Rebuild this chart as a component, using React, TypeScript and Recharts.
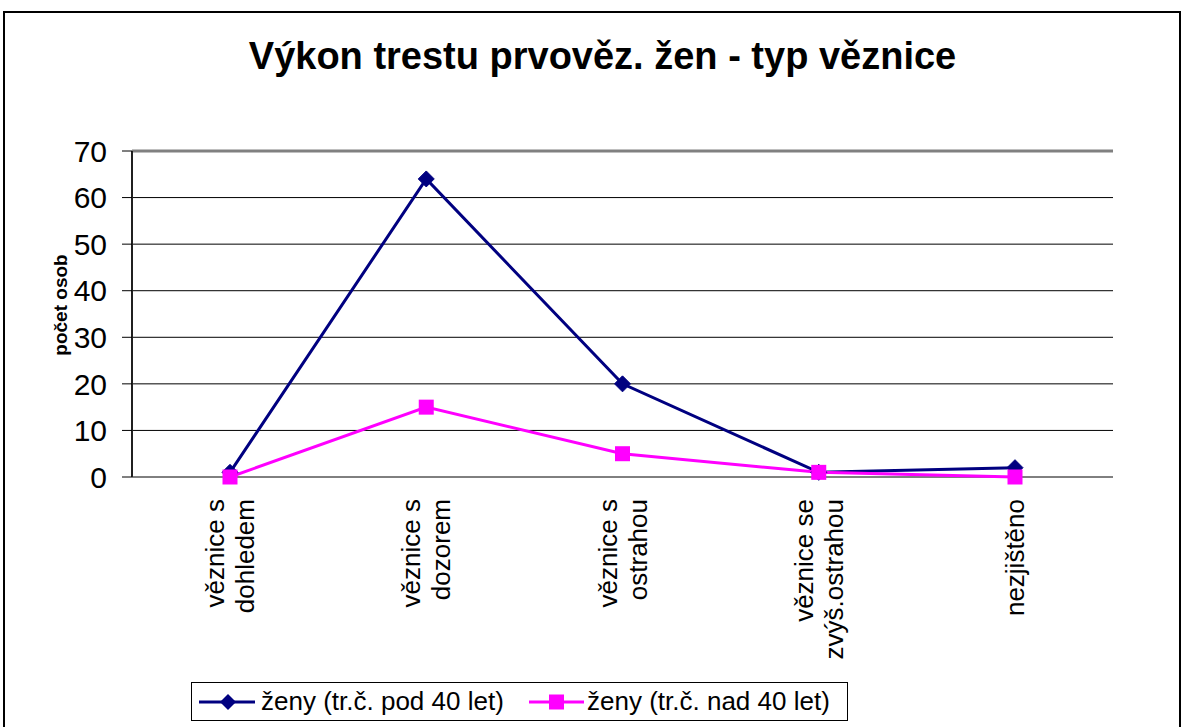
import React from "react";
import {
  LineChart,
  Line,
  XAxis,
  YAxis,
  CartesianGrid,
  ReferenceLine,
  Legend,
} from "recharts";

const title = "Výkon trestu prvověz. žen - typ věznice";
const yAxisTitle = "počet osob";
const categories = [
  "věznice s dohledem",
  "věznice s dozorem",
  "věznice s ostrahou",
  "věznice se zvýš.ostrahou",
  "nezjištěno",
];
const categoryLines = [
  ["věznice s", "dohledem"],
  ["věznice s", "dozorem"],
  ["věznice s", "ostrahou"],
  ["věznice se", "zvýš.ostrahou"],
  ["nezjištěno"],
];
const seriesNames = ["ženy (tr.č. pod 40 let)", "ženy (tr.č. nad 40 let)"];
const under40 = [1, 64, 20, 1, 2];
const over40 = [0, 15, 5, 1, 0];
const yTicks = [0, 10, 20, 30, 40, 50, 60, 70];
const boundaryTicks = [0, 1, 2, 3, 4, 5];

const NAVY = "#000080";
const PINK = "#FF00FF";
const FONT = "'Liberation Sans', Arial, sans-serif";

const data = categories.map((c, i) => ({
  name: c,
  under40: under40[i],
  over40: over40[i],
}));

const Diamond = (props: any) => {
  const { cx, cy } = props;
  if (cx == null || cy == null) return null;
  const s = 8;
  return (
    <polygon
      points={`${cx},${cy - s} ${cx + s},${cy} ${cx},${cy + s} ${cx - s},${cy}`}
      fill={NAVY}
      stroke={NAVY}
      strokeWidth={1}
    />
  );
};

const Square = (props: any) => {
  const { cx, cy } = props;
  if (cx == null || cy == null) return null;
  const s = 7.5;
  return <rect x={cx - s} y={cy - s} width={2 * s} height={2 * s} fill={PINK} />;
};

const CatTick = (props: any) => {
  const { x, y, payload } = props;
  const idx = categories.indexOf(payload.value);
  const lines = categoryLines[idx] || [String(payload.value)];
  const n = lines.length;
  return (
    <g transform={`translate(${x},${y + 22}) rotate(-90)`}>
      <text textAnchor="end" fontSize={26} fontFamily={FONT} fill="#000">
        {lines.map((l, i) => (
          <tspan key={i} x={0} y={9 + (i - (n - 1) / 2) * 30}>
            {l}
          </tspan>
        ))}
      </text>
    </g>
  );
};

const YLabel = () => (
  <text
    transform="translate(67,305) rotate(-90)"
    textAnchor="middle"
    fontSize={19}
    fontWeight="bold"
    fontFamily={FONT}
    fill="#000"
  >
    {yAxisTitle}
  </text>
);

const LegendContent = () => (
  <div
    style={{
      position: "relative",
      width: 657,
      height: 39,
      border: "1px solid #000",
      boxSizing: "border-box",
      background: "#fff",
      fontFamily: FONT,
      fontSize: 26,
      color: "#000",
    }}
  >
    <svg
      width={56}
      height={20}
      style={{ position: "absolute", left: 7, top: 9 }}
    >
      <line x1={0} y1={10} x2={56} y2={10} stroke={NAVY} strokeWidth={3} />
      <polygon points="29,2 37,10 29,18 21,10" fill={NAVY} />
    </svg>
    <span
      style={{ position: "absolute", left: 69, top: 4, whiteSpace: "nowrap", lineHeight: "29px" }}
    >
      {seriesNames[0]}
    </span>
    <svg
      width={55}
      height={20}
      style={{ position: "absolute", left: 337, top: 9 }}
    >
      <line x1={0} y1={10} x2={55} y2={10} stroke={PINK} strokeWidth={3} />
      <rect x={20} y={2.5} width={15} height={15} fill={PINK} />
    </svg>
    <span
      style={{ position: "absolute", left: 395, top: 4, whiteSpace: "nowrap", lineHeight: "29px" }}
    >
      {seriesNames[1]}
    </span>
  </div>
);

export default function App() {
  return (
    <div
      style={{
        position: "absolute",
        left: 0,
        top: 0,
        width: 1184,
        height: 727,
        overflow: "hidden",
        background: "#fff",
      }}
    >
      <div
        style={{
          position: "absolute",
          left: 3,
          top: 11,
          width: 1178,
          height: 800,
          border: "2px solid #000",
          boxSizing: "border-box",
        }}
      />
      <div
        style={{
          position: "absolute",
          left: 0,
          top: 33,
          width: 1205,
          textAlign: "center",
          fontFamily: FONT,
          fontWeight: "bold",
          fontSize: 38,
          lineHeight: "46px",
          color: "#000",
          whiteSpace: "nowrap",
        }}
      >
        {title}
      </div>
      <div style={{ position: "absolute", left: 0, top: 0 }}>
        <LineChart
          width={1184}
          height={727}
          data={data}
          margin={{ top: 151, right: 71, bottom: 50, left: 72 }}
        >
          <CartesianGrid
            horizontal={true}
            vertical={false}
            stroke="#000"
            strokeWidth={1}
            strokeDasharray=""
          />
          <XAxis
            xAxisId="b"
            type="number"
            domain={[0, 5]}
            ticks={boundaryTicks}
            allowDataOverflow
            height={0}
            tick={false}
            tickSize={8}
            tickLine={{ stroke: "#000", strokeWidth: 1 }}
            axisLine={{ stroke: "#404040", strokeWidth: 2.5 }}
          />
          <XAxis
            xAxisId="cat"
            dataKey="name"
            type="category"
            height={200}
            padding={{ left: 98, right: 98 }}
            axisLine={false}
            tickLine={false}
            tickSize={0}
            tickMargin={0}
            interval={0}
            tick={<CatTick />}
          />
          <YAxis
            width={60}
            domain={[0, 70]}
            ticks={yTicks}
            interval={0}
            tickSize={10}
            tickMargin={15}
            tick={{ fontSize: 30, fill: "#000", fontFamily: FONT }}
            tickLine={{ stroke: "#000", strokeWidth: 1 }}
            axisLine={{ stroke: "#202020", strokeWidth: 2 }}
            label={{ content: () => <YLabel /> }}
          />
          <ReferenceLine y={70} stroke="#808080" strokeWidth={3} />
          <ReferenceLine xAxisId="b" x={5} stroke="#808080" strokeWidth={2} />
          <Line
            xAxisId="cat"
            type="linear"
            dataKey="under40"
            name={seriesNames[0]}
            stroke={NAVY}
            strokeWidth={3}
            dot={<Diamond />}
            activeDot={false}
            isAnimationActive={false}
          />
          <Line
            xAxisId="cat"
            type="linear"
            dataKey="over40"
            name={seriesNames[1]}
            stroke={PINK}
            strokeWidth={3}
            dot={<Square />}
            activeDot={false}
            isAnimationActive={false}
          />
          <Legend
            layout="horizontal"
            verticalAlign="middle"
            align="center"
            content={() => <LegendContent />}
            wrapperStyle={{ left: 191, top: 682, width: 657, height: 39 }}
          />
        </LineChart>
      </div>
    </div>
  );
}
